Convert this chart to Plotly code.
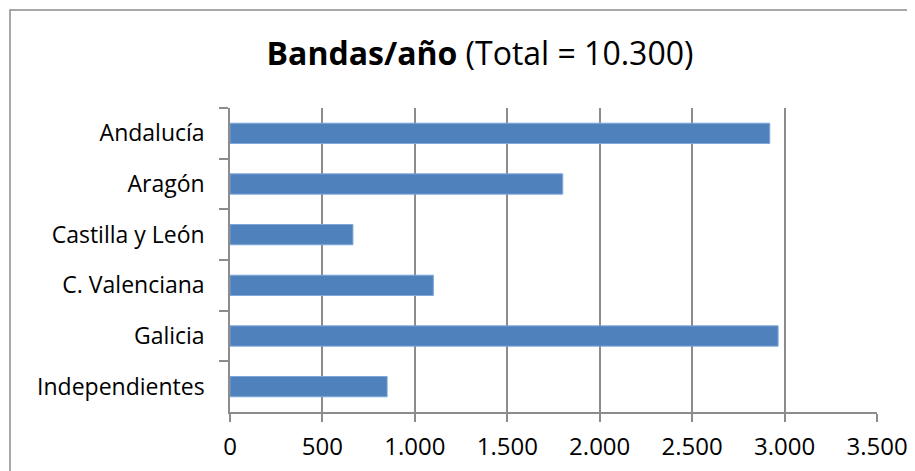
import plotly.graph_objects as go

categories = ["Andalucía", "Aragón", "Castilla y León", "C. Valenciana", "Galicia", "Independientes"]
values = [2920, 1800, 665, 1100, 2965, 850]
x_ticks = [0, 500, 1000, 1500, 2000, 2500, 3000, 3500]

OFF = 8  # page body margin
W, H = 915 - OFF, 471 - OFF
L, R, T, B = 230 - OFF, 877 - OFF, 108 - OFF, 412 - OFF
pw, ph = R - L, B - T

fig = go.Figure(go.Bar(
    y=categories, x=values, orientation="h",
    marker=dict(color="#4F81BD", line=dict(color="#7FA7D9", width=1)),
))

FONT = "'Open Sans', sans-serif"
grid = "#8C8C8C"

fig.update_layout(
    width=W, height=H,
    margin=dict(l=L, r=W - R, t=T, b=H - B, pad=0, autoexpand=False),
    paper_bgcolor="white", plot_bgcolor="white",
    separators=",.",
    bargap=0.6,
    showlegend=False,
    font=dict(family=FONT, size=22, color="#000000"),
    title=dict(
        text="<b>Bandas/año</b> (Total = 10.300)",
        x=(480 - OFF) / W, xanchor="center", xref="container",
        y=1 - (54 - OFF) / H, yanchor="middle", yref="container",
        font=dict(family=FONT, size=32, color="#000000"),
    ),
    xaxis=dict(
        range=[0, 3500], tickvals=x_ticks, tickformat=",d",
        showgrid=True, gridcolor=grid, gridwidth=1.5,
        zeroline=False, showline=True, linecolor=grid, linewidth=1.5,
        ticks="outside", ticklen=8, tickcolor=grid, tickwidth=1.5,
        ticklabelstandoff=4, automargin=False,
        tickfont=dict(family=FONT, size=24),
    ),
    yaxis=dict(
        categoryorder="array", categoryarray=categories, autorange="reversed",
        tickson="boundaries", ticks="outside", ticklen=9, tickcolor=grid, tickwidth=1.5,
        showgrid=False, showline=True, linecolor=grid, linewidth=1.5,
        ticklabelstandoff=19, automargin=False,
        tickfont=dict(family=FONT, size=23),
    ),
    shapes=[dict(
        type="rect", xref="paper", yref="paper",
        x0=(10 - OFF - L) / pw, x1=1 + (W + 20 - R) / pw,
        y0=-(H + 20 - B) / ph, y1=1 + (T - (10 - OFF)) / ph,
        line=dict(color="#8C8C8C", width=1.5), fillcolor="rgba(0,0,0,0)", layer="below",
    )],
)

fig.write_html("out.html")
